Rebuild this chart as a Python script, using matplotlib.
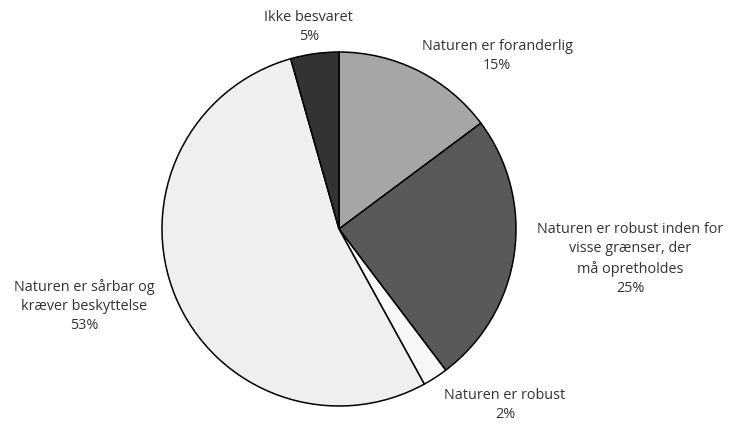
import matplotlib
matplotlib.use("Agg")
import matplotlib.pyplot as plt

plt.rcParams['font.family'] = ['Open Sans', 'DejaVu Sans']

categories = [
    "Naturen er foranderlig",
    "Naturen er robust inden for\nvisse grænser, der\nmå opretholdes",
    "Naturen er robust",
    "Naturen er sårbar og\nkræver beskyttelse",
    "Ikke besvaret",
]
values = [14.8, 24.9, 2.3, 53.6, 4.4]
pct_labels = ["15%", "25%", "2%", "53%", "5%"]
colors = ["#a6a6a6", "#595959", "#f8f8f8", "#efefef", "#333333"]
label_pos = [(0.893, 0.977), (1.644, -0.169), (0.938, -0.994), (-1.441, -0.435), (-0.17, 1.14)]

W, H = 729, 426
cx, cy, r = 339, 229, 177

fig = plt.figure(figsize=(W / 100, H / 100), dpi=100)
ax = fig.add_axes([0, 0, 1, 1])
ax.pie(values, colors=colors, startangle=90, counterclock=False, radius=1,
       wedgeprops=dict(edgecolor="black", linewidth=1.1))
ax.set_xlim(-cx / r, (W - cx) / r)
ax.set_ylim((cy - H) / r, cy / r)
ax.set_aspect('auto')
ax.axis('off')

for cat, pct, (x, y) in zip(categories, pct_labels, label_pos):
    ax.text(x, y, cat + "\n" + pct, ha='center', va='center', fontsize=10.4,
            color='#333333', linespacing=1.38)

fig.savefig("out.png", dpi=100)
